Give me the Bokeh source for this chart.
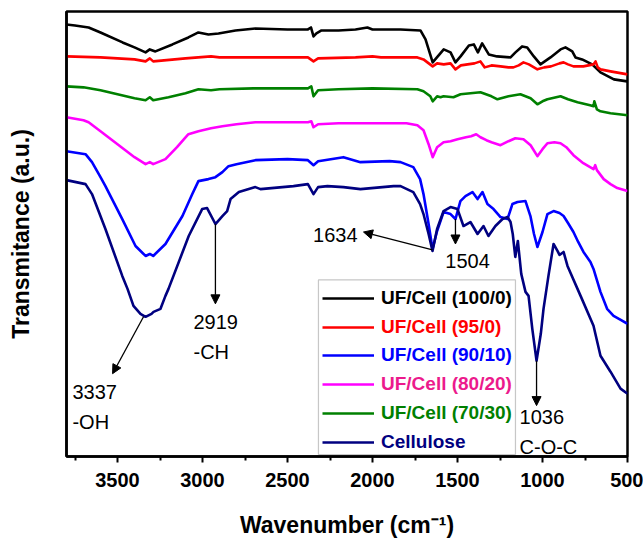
from bokeh.plotting import figure
from bokeh.models import (Range1d, FixedTicker, Label, Arrow, NormalHead, Legend,
                          LegendItem, BoxAnnotation)
from bokeh.embed import file_html
from bokeh.resources import INLINE

# ---------------- data (arbitrary transmittance units) -------------
wn_black = [3800, 3750, 3670, 3600, 3470, 3400, 3335, 3310, 3277, 3177, 3083, 3024, 2965, 2906,
            2806, 2689, 2500, 2380, 2362, 2347, 2330, 2300, 2200, 2100, 2030, 2000, 1835, 1718,
            1688, 1646, 1581, 1541, 1512, 1482, 1433, 1404, 1380, 1355, 1316, 1267, 1188, 1159,
            1120, 1090, 1051, 1012, 953, 894, 865, 825, 806, 767, 708, 659, 580, 502]
t_black = [433, 432, 430, 425, 415, 410, 405, 408, 406, 413, 420, 425, 423, 424,
           427, 429, 428, 428, 430, 421, 424, 427, 427, 428, 430, 428, 428, 427,
           418, 395, 408, 405, 395, 401, 412, 413, 405, 414, 403, 401, 400, 405,
           411, 410, 401, 393, 400, 408, 410, 406, 400, 398, 393, 385, 378, 376]

wn_red = [3800, 3600, 3400, 3335, 3310, 3290, 3100, 2950, 2900, 2600, 2380, 2347, 2320, 2100,
          2000, 1950, 1736, 1700, 1646, 1620, 1581, 1541, 1512, 1480, 1441, 1400, 1365, 1340,
          1300, 1247, 1200, 1171, 1140, 1112, 1080, 1030, 990, 950, 900, 876, 850, 818, 760,
          700, 688, 675, 659, 600, 500]
t_red = [401, 400, 398, 396, 399, 396, 399, 401, 400, 400, 400, 396, 399, 400,
         401, 400, 400, 398, 391, 394, 393, 394, 388, 392, 393, 394, 396, 390,
         392, 391, 390, 390, 392, 395, 393, 388, 390, 391, 394, 395, 393, 391, 391,
         393, 396, 390, 388, 386, 383]

wn_blue = [3800, 3688, 3650, 3600, 3571, 3472, 3394, 3335, 3310, 3290, 3218, 3118, 3060, 3024,
           2965, 2924, 2883, 2847, 2800, 2689, 2500, 2380, 2347, 2320, 2171, 2071, 1900, 1835,
           1760, 1720, 1700, 1670, 1647, 1620, 1582, 1541, 1512, 1483, 1453, 1412, 1382, 1353,
           1324, 1288, 1247, 1206, 1177, 1147, 1100, 1071, 1050, 1030, 1000, 971, 935, 900,
           876, 850, 818, 790, 759, 718, 700, 659, 620, 582, 540, 500]
t_blue = [306, 303, 295, 280, 271, 238, 211, 201, 203, 201, 213, 241, 263, 276,
          278, 280, 285, 291, 293, 297, 298, 297, 292, 296, 300, 295, 296, 295,
          290, 278, 263, 233, 208, 226, 245, 243, 238, 256, 261, 265, 258, 265,
          253, 248, 240, 238, 253, 255, 256, 241, 223, 210, 225, 243, 246, 244,
          241, 234, 225, 215, 205, 195, 188, 165, 148, 141, 137, 133]

wn_magenta = [3800, 3700, 3670, 3600, 3500, 3400, 3335, 3310, 3290, 3218, 3150, 3083, 3024, 2950,
              2883, 2800, 2689, 2500, 2380, 2360, 2347, 2320, 2200, 2000, 1800, 1736, 1700, 1670,
              1646, 1620, 1582, 1541, 1500, 1450, 1420, 1390, 1365, 1330, 1300, 1247, 1200, 1160,
              1112, 1070, 1030, 1000, 971, 930, 894, 860, 818, 760, 720, 700, 690, 680, 640, 600,
              560, 500]
t_magenta = [340, 337, 335, 326, 313, 300, 293, 295, 293, 298, 310, 323, 326, 329,
             331, 333, 335, 335, 335, 336, 330, 333, 334, 334, 334, 332, 327, 313,
             300, 310, 315, 316, 318, 320, 321, 323, 320, 317, 315, 312, 316, 319,
             318, 312, 301, 308, 314, 315, 314, 310, 302, 294, 290, 288, 292, 287, 278, 273,
             269, 266]

wn_green = [3800, 3700, 3600, 3500, 3400, 3335, 3310, 3290, 3200, 3100, 3024, 2950, 2900, 2700,
            2380, 2360, 2347, 2320, 2200, 2000, 1736, 1700, 1660, 1646, 1620, 1600, 1582, 1524,
            1482, 1365, 1300, 1265, 1200, 1130, 1070, 1030, 1000, 971, 894, 850, 794, 720, 700,
            695, 680, 659, 600, 500]
t_green = [371, 370, 367, 363, 359, 357, 360, 357, 360, 364, 368, 367, 368, 369,
           369, 371, 361, 367, 368, 369, 368, 366, 361, 356, 361, 360, 361, 360,
           363, 365, 361, 358, 361, 363, 359, 353, 356, 358, 361, 358, 355, 352, 351,
           356, 348, 346, 344, 342]

wn_cell = [3800, 3688, 3650, 3571, 3472, 3441, 3406, 3365, 3335, 3300, 3288, 3247, 3218, 3200,
           3081, 3002, 2973, 2924, 2883, 2855, 2835, 2786, 2689, 2659, 2465, 2380, 2347, 2320,
           2265, 2171, 2071, 1876, 1835, 1760, 1720, 1700, 1670, 1647, 1620, 1582, 1541, 1500,
           1465, 1424, 1382, 1347, 1318, 1277, 1235, 1206, 1188, 1175, 1160, 1145, 1125, 1100,
           1082, 1060, 1035, 1010, 994, 965, 935, 912, 900, 876, 853, 776, 700, 659, 600, 541,
           500]
t_cell = [277, 273, 263, 228, 181, 168, 151, 143, 140, 143, 145, 148, 161, 168,
          221, 248, 249, 233, 241, 246, 258, 265, 270, 268, 271, 273, 263, 270,
          271, 270, 268, 271, 271, 265, 253, 243, 223, 206, 228, 246, 250, 248,
          231, 235, 223, 231, 221, 231, 238, 240, 235, 223, 200, 216, 183, 165,
          161, 128, 96, 123, 148, 181, 213, 206, 202, 205, 191, 161, 131, 101, 85, 68,
          63]

series_names = ["UF/Cell (100/0)", "UF/Cell (95/0)", "UF/Cell (90/10)",
                "UF/Cell (80/20)", "UF/Cell (70/30)", "Cellulose"]
x_ticks = [3500, 3000, 2500, 2000, 1500, 1000, 500]
x_minor_ticks = [3750, 3250, 2750, 2250, 1750, 1250, 750]

peak_labels = ["3337\n-OH", "2919\n-CH", "1634", "1504", "1036\nC-O-C"]

# ---------------- styling -------------------------------------------------------------------
line_colors = ["#000000", "#FF0000", "#0000FF", "#FF00FF", "#008000", "#000080"]
text_colors = ["#000000", "#FF0000", "#0000FF", "#EC1A8C", "#008000", "#000080"]
FONT = "Liberation Sans"

p = figure(width=643, height=544, output_backend="svg", toolbar_location=None,
           x_range=Range1d(3800, 500), y_range=Range1d(0, 446),
           min_border_left=66, min_border_right=16, min_border_top=11, min_border_bottom=88)
p.background_fill_color = "white"
p.border_fill_color = "white"
p.grid.visible = False
p.outline_line_color = "black"
p.outline_line_width = 2.5
p.outline_line_alpha = 1.0

p.xaxis.ticker = FixedTicker(ticks=x_ticks, minor_ticks=x_minor_ticks)
p.xaxis.axis_line_width = 2.5
p.xaxis.major_tick_line_width = 2
p.xaxis.minor_tick_line_width = 2
p.xaxis.major_tick_out = 6
p.xaxis.major_tick_in = 0
p.xaxis.minor_tick_out = 4
p.xaxis.minor_tick_in = 0
p.xaxis.major_label_standoff = 10
p.xaxis.major_label_text_font = FONT
p.xaxis.major_label_text_font_style = "bold"
p.xaxis.major_label_text_font_size = "20px"
p.xaxis.major_label_text_color = "black"
p.xaxis.axis_label = "Wavenumber (cm\u207b\u00b9)"
p.xaxis.axis_label_standoff = 22

p.yaxis.ticker = FixedTicker(ticks=[])
p.yaxis.axis_line_width = 2.5
p.yaxis.major_tick_line_color = None
p.yaxis.minor_tick_line_color = None
p.yaxis.axis_label = "Transmitance (a.u.)"
p.yaxis.axis_label_standoff = 33

for ax in (p.xaxis[0], p.yaxis[0]):
    ax.axis_label_text_font = FONT
    ax.axis_label_text_font_style = "bold"
    ax.axis_label_text_font_size = "23px"
    ax.axis_label_text_color = "black"

all_x = [wn_black, wn_red, wn_blue, wn_magenta, wn_green, wn_cell]
all_y = [t_black, t_red, t_blue, t_magenta, t_green, t_cell]
renderers = []
for xs, ys, c in zip(all_x, all_y, line_colors):
    assert len(xs) == len(ys)
    renderers.append(p.line(xs, ys, line_color=c, line_width=2.6, line_join="round"))

# ---------------- peak annotations ---------------------------------------------------------
head = dict(size=9, fill_color="black", line_color="black", line_width=1)
arrows = [  # (x_start, y_start, x_end, y_end)
    (3347, 140, 3529, 83),
    (2924, 233, 2924, 153),
    (1647, 207, 2053, 225),
    (1512, 238, 1512, 213),
    (1035, 96, 1035, 51),
]
for xs, ys, xe, ye in arrows:
    p.add_layout(Arrow(end=NormalHead(**head), x_start=xs, y_start=ys, x_end=xe, y_end=ye,
                       line_color="black", line_width=1.3))

label_pos = [  # (x, y, align) for first line; further lines 30 units below
    (3765, 65, "left"),
    (3053, 135, "left"),
    (2088, 222, "right"),
    (1441, 196, "center"),
    (1135, 40, "left"),
]
for txt, (lx, ly, al) in zip(peak_labels, label_pos):
    for k, line in enumerate(txt.split("\n")):
        p.add_layout(Label(x=lx, y=ly - 30 * k, text=line, text_align=al,
                           text_baseline="middle", text_font=FONT, text_font_size="20px",
                           text_color="black"))

# ---------------- legend -------------------------------------------------------------------
p.add_layout(BoxAnnotation(left=2318, right=1159, bottom=2, top=177, fill_color="white",
                           fill_alpha=1.0, line_color="#444444", line_width=1.2))
row_h = 22
for i, (name, r, tc) in enumerate(zip(series_names, renderers, text_colors)):
    yc = 298 + 28.7 * i          # screen row centre
    leg = Legend(items=[LegendItem(label=name, renderers=[r])],
                 location=(256, 456 - yc - row_h / 2),
                 padding=0, margin=0, spacing=0, glyph_width=52, glyph_height=row_h,
                 label_height=row_h, label_standoff=7,
                 label_text_font=FONT, label_text_font_style="bold",
                 label_text_font_size="19px", label_text_color=tc,
                 label_text_baseline="middle",
                 border_line_color=None, background_fill_alpha=0)
    p.add_layout(leg)

open("out.html", "w").write(file_html(p, INLINE))
